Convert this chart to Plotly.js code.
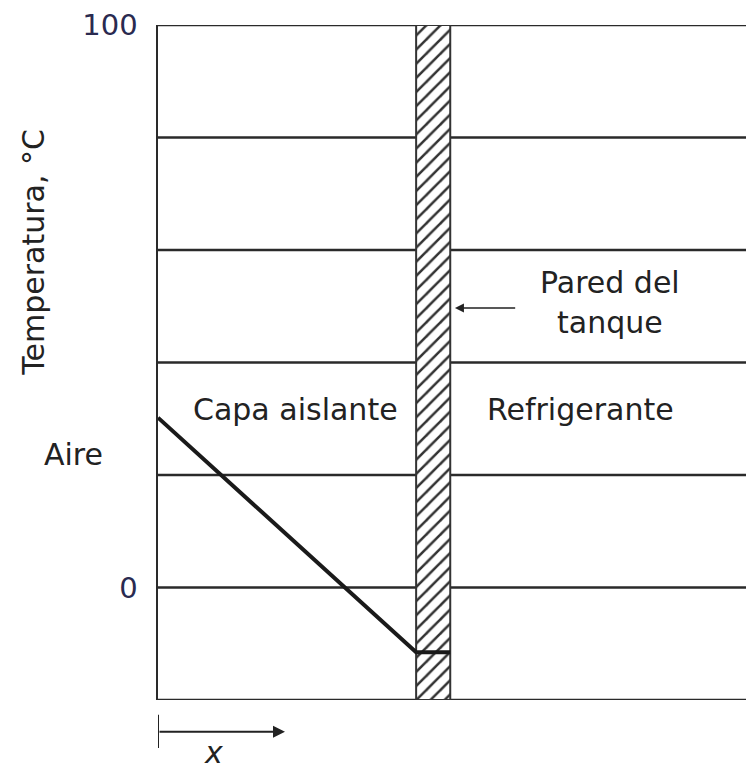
<!DOCTYPE html>
<html><head><meta charset="utf-8">
<script src="https://cdn.plot.ly/plotly-3.0.1.min.js"></script>
<style>html,body{margin:0;padding:0;background:#fff}</style>
</head><body>
<div id="chart" style="width:746px;height:769px"></div>
<script>
// Temperature profile (x in arbitrary distance units, y in °C)
const profileX = [0, 4.39, 4.97];
const profileY = [30.2, -11.5, -11.5];
// Tank wall extent
const wallX = [4.39, 4.97];
const yRange = [-20, 100];
const xRange = [0, 10];
const gridVals = [-20, 0, 20, 40, 60, 80, 100];
const gridText = ['', '0', '', '', '', '', '100'];
const labels = {
  yTitle: 'Temperatura, °C',
  air: 'Aire',
  insul: 'Capa aislante',
  coolant: 'Refrigerante',
  wall1: 'Pared del',
  wall2: 'tanque',
  x: 'x'
};

const font = '"DejaVu Sans", sans-serif';
const ink = '#222';
const fs = 30;

const wall = {
  x: [wallX[0], wallX[1], wallX[1], wallX[0], wallX[0]],
  y: [yRange[0], yRange[0], yRange[1], yRange[1], yRange[0]],
  mode: 'lines', fill: 'toself',
  fillcolor: 'white',
  fillpattern: {shape: '/', fgcolor: '#333', bgcolor: 'white', size: 10, solidity: 0.25},
  line: {color: '#333', width: 2},
  hoverinfo: 'skip', showlegend: false
};
const profile = {
  x: profileX, y: profileY, mode: 'lines',
  line: {color: '#1a1a1a', width: 4},
  showlegend: false
};

const gridShapes = gridVals.map(v => ({
  type: 'line', xref: 'paper', yref: 'y', x0: 0, x1: 1, y0: v, y1: v,
  layer: 'below', line: {color: '#2a2a2a', width: 2.5}
}));

function txt(t, xref, yref, x, y, extra) {
  return Object.assign({text: t, xref: xref, yref: yref, x: x, y: y,
    xanchor: 'center', yanchor: 'middle', showarrow: false, font: {size: fs}}, extra || {});
}

const layout = {
  width: 746, height: 769,
  margin: {l: 158, r: 0, t: 25, b: 69},
  paper_bgcolor: 'white', plot_bgcolor: 'white',
  font: {family: font, color: ink, size: fs},
  xaxis: {range: xRange, showgrid: false, zeroline: false, showticklabels: false,
          ticks: '', showline: false, fixedrange: true},
  yaxis: {range: yRange, tickvals: gridVals, ticktext: gridText,
          showgrid: false, zeroline: false,
          showline: true, linecolor: '#2a2a2a', linewidth: 2.5, ticks: '',
          ticklabelstandoff: 12,
          tickfont: {family: font, size: 29, color: '#2a2a50'}},
  shapes: gridShapes.concat([
    {type: 'line', xref: 'x', yref: 'paper', x0: 0, x1: 0, y0: -0.022, y1: -0.071,
     line: {color: '#222', width: 2}}
  ]),
  annotations: [
    txt(labels.yTitle, 'paper', 'paper', -0.211, 0.664, {textangle: -90}),
    txt(labels.air, 'paper', 'paper', -0.143, 0.363),
    txt(labels.insul, 'x', 'y', 2.33, 31.6),
    txt(labels.coolant, 'x', 'y', 7.18, 31.6),
    txt(labels.wall1, 'x', 'y', 7.69, 54.3),
    txt(labels.wall2, 'x', 'y', 7.69, 47.2),
    {text: '', xref: 'x', yref: 'y', x: 5.05, y: 49.7, ax: 6.10, ay: 49.7,
     axref: 'x', ayref: 'y', showarrow: true, arrowhead: 2, arrowsize: 1.2,
     arrowwidth: 1.5, arrowcolor: '#222'},
    {text: '', xref: 'x', yref: 'paper', x: 2.16, y: -0.047, ax: 0, ay: -0.047,
     axref: 'x', ayref: 'paper', showarrow: true, arrowhead: 2, arrowsize: 1.2,
     arrowwidth: 2, arrowcolor: '#222'},
    txt('<i>' + labels.x + '</i>', 'x', 'paper', 0.94, -0.078)
  ]
};

Plotly.newPlot('chart', [wall, profile], layout, {displayModeBar: false, staticPlot: true});
</script>
</body></html>
